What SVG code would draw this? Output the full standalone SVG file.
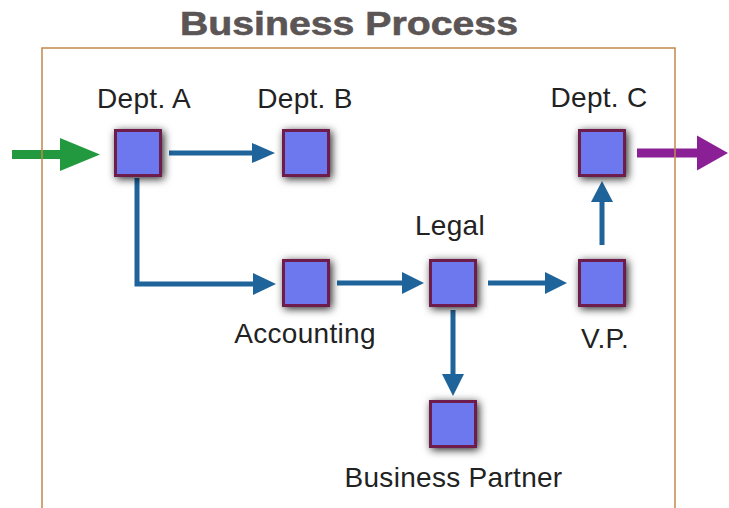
<svg xmlns="http://www.w3.org/2000/svg" width="729" height="508" viewBox="0 0 729 508">
  <defs>
    <filter id="sh" x="-60%" y="-60%" width="220%" height="220%">
      <feDropShadow dx="2" dy="2" stdDeviation="4" flood-color="#000" flood-opacity="0.85"/>
    </filter>
    <style>
      .box { fill: #6e78ee; stroke: #6d1f4c; stroke-width: 3; }
      .lbl { font-family: "Liberation Sans", Arial, sans-serif; font-size: 28px; letter-spacing: 0.3px; fill: #222; text-anchor: middle; }
      .ln { fill: none; stroke: #1e6399; stroke-width: 5; }
      .hd { fill: #1e6399; }
    </style>
  </defs>
  <rect width="729" height="508" fill="#fff"/>
  <text x="349" y="35" font-family="Liberation Sans, Arial, sans-serif" font-weight="bold" font-size="33" fill="#5b5555" stroke="#5b5555" stroke-width="0.6" text-anchor="middle" textLength="338" lengthAdjust="spacingAndGlyphs">Business Process</text>

  <!-- input arrow -->
  <g id="input-arrow">
    <rect x="12" y="150" width="50" height="9" fill="#22993f"/>
    <polygon points="60,138 100,154.5 60,171" fill="#22993f"/>
  </g>
  <!-- output arrow -->
  <g id="output-arrow">
    <rect x="637" y="148.5" width="63" height="9" fill="#8a1f96"/>
    <polygon points="697,135.5 728,153 697,170.5" fill="#8a1f96"/>
  </g>

  <rect id="frame" x="42" y="48" width="633" height="480" fill="none" stroke="#c3884c" stroke-width="1.5"/>

  <g id="connectors">
    <line class="ln" x1="169" y1="153" x2="254" y2="153"/>
    <polygon class="hd" points="252,143 275,153 252,163"/>
    <path class="ln" d="M137,178 V284 H255"/>
    <polygon class="hd" points="253,273 276,284 253,295"/>
    <line class="ln" x1="337" y1="283" x2="404" y2="283"/>
    <polygon class="hd" points="402,272 424,283 402,294"/>
    <line class="ln" x1="488" y1="283" x2="547" y2="283"/>
    <polygon class="hd" points="545,272 567,283 545,294"/>
    <line class="ln" x1="602" y1="245" x2="602" y2="200"/>
    <polygon class="hd" points="591,202 602,181 613,202"/>
    <line class="ln" x1="453" y1="310" x2="453" y2="376"/>
    <polygon class="hd" points="442,374 453,396 464,374"/>
  </g>

  <g id="dept-a">
    <rect class="box" x="115.5" y="130.5" width="45" height="45" filter="url(#sh)"/>
    <text class="lbl" x="144" y="108">Dept. A</text>
  </g>
  <g id="dept-b">
    <rect class="box" x="283.5" y="130.5" width="45" height="45" filter="url(#sh)"/>
    <text class="lbl" x="305" y="108">Dept. B</text>
  </g>
  <g id="dept-c">
    <rect class="box" x="579.5" y="130.5" width="45" height="45" filter="url(#sh)"/>
    <text class="lbl" x="599" y="107">Dept. C</text>
  </g>
  <g id="accounting">
    <rect class="box" x="283.5" y="260.5" width="45" height="45" filter="url(#sh)"/>
    <text class="lbl" x="305" y="343">Accounting</text>
  </g>
  <g id="legal">
    <rect class="box" x="430.5" y="260.5" width="45" height="45" filter="url(#sh)"/>
    <text class="lbl" x="450" y="235">Legal</text>
  </g>
  <g id="vp">
    <rect class="box" x="579.5" y="260.5" width="45" height="45" filter="url(#sh)"/>
    <text class="lbl" x="605" y="348">V.P.</text>
  </g>
  <g id="business-partner">
    <rect class="box" x="430.5" y="401.5" width="45" height="45" filter="url(#sh)"/>
    <text class="lbl" x="453.5" y="487">Business Partner</text>
  </g>
</svg>
